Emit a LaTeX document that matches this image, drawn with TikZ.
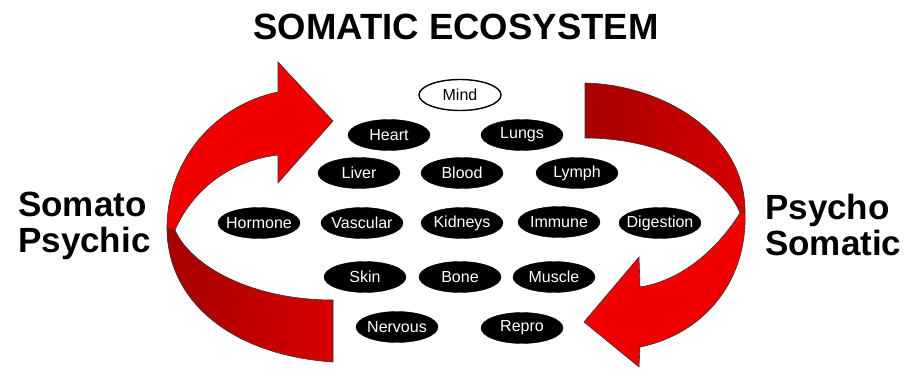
\documentclass[tikz,border=0pt]{standalone}
\usepackage{fontspec}
\setmainfont{Liberation Sans}
\usepackage{tikz}
\usetikzlibrary{shapes.geometric, positioning}
\definecolor{arrowred}{RGB}{240, 0, 0}
\definecolor{backred}{RGB}{215, 0, 0}
\definecolor{deepred}{RGB}{165, 0, 0}

\begin{document}
\begin{tikzpicture}[x=1pt, y=-1pt,
    organ/.style={ellipse, fill=black, draw=black, text=white,
                  minimum width=82pt, minimum height=31pt, inner sep=0pt,
                  font=\fontsize{16}{16}\selectfont},
    mindnode/.style={organ, fill=white, draw=black, line width=1.4pt, text=black},
    front/.style={fill=arrowred, draw=black!80, line width=0.6pt},
    back/.style={left color=deepred, right color=backred, draw=black!80, line width=0.6pt},
    side/.style={font=\bfseries\fontsize{35}{36}\selectfont, align=left, inner sep=0pt}
]
\useasboundingbox (0,0) rectangle (907,377);

% Title
\node[font=\bfseries\fontsize{36.5}{36.5}\selectfont, anchor=base, inner sep=0pt] (title) at (456,40) {SOMATIC ECOSYSTEM};

% Somato-psychic arrow
\draw[back] (167,228) .. controls (167,300) and (230,355) .. (333,362)
    -- (333,300) .. controls (250,300) and (190,265) .. (175,230) -- cycle;
\draw[front] (175,230) .. controls (195,185) and (235,160) .. (278,155)
    -- (278,183) -- (333,121) -- (278,62) -- (278,92)
    .. controls (215,105) and (167,160) .. (167,228) -- cycle;

% Psycho-somatic arrow
\draw[back] (585,83) .. controls (665,85) and (745,135) .. (745,211)
    -- (740,213) .. controls (725,175) and (665,138) .. (585,138) -- cycle;
\draw[front] (740,213) .. controls (720,245) and (685,280) .. (640,287)
    -- (639,257) -- (584,322) -- (639,367) -- (640,347)
    .. controls (700,335) and (748,285) .. (745,211) -- cycle;

% Side labels
\node[side, anchor=base west] (somato) at (18,252) {Somato\\Psychic};
\node[side, anchor=base west] (psycho) at (765,255) {Psycho\\Somatic};

% Body systems
\node[mindnode] (mind) at (460,95) {\makebox[0pt]{Mind}};

\node[organ] (heart) at (389,135) {\makebox[0pt]{Heart}};
\node[organ] (lungs) at (522,135) {\makebox[0pt]{Lungs}};

\node[organ] (liver) at (359,173) {\makebox[0pt]{Liver}};
\node[organ] (blood) at (462,173) {\makebox[0pt]{Blood}};
\node[organ] (lymph) at (577,173) {\makebox[0pt]{Lymph}};

\node[organ] (hormone)   at (259,223) {\makebox[0pt]{Hormone}};
\node[organ] (vascular)  at (362,223) {\makebox[0pt]{Vascular}};
\node[organ] (kidneys)   at (462,223) {\makebox[0pt]{Kidneys}};
\node[organ] (immune)    at (559,222) {\makebox[0pt]{Immune}};
\node[organ] (digestion) at (660,223) {\makebox[0pt]{Digestion}};

\node[organ] (skin)   at (365,277) {\makebox[0pt]{Skin}};
\node[organ] (bone)   at (460,277) {\makebox[0pt]{Bone}};
\node[organ] (muscle) at (554,277) {\makebox[0pt]{Muscle}};

\node[organ] (nervous) at (397,327) {\makebox[0pt]{Nervous}};
\node[organ] (repro)   at (522,328) {\makebox[0pt]{Repro}};

\end{tikzpicture}
\end{document}
